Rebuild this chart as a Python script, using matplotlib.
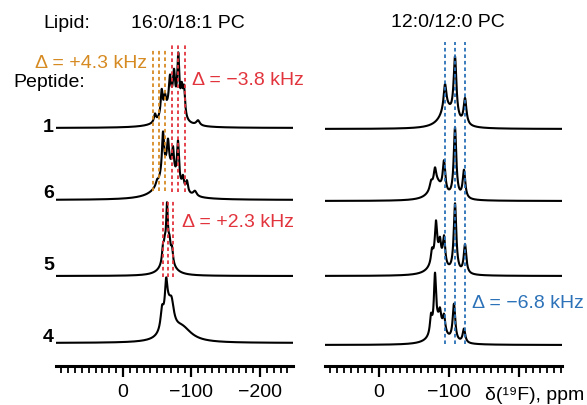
import matplotlib.pyplot as plt
import numpy as np
from matplotlib.ticker import MultipleLocator, FixedLocator, FixedFormatter

plt.rcParams['font.family'] = ['Liberation Sans', 'DejaVu Sans']
plt.rcParams['font.size'] = 14

W, H = 587, 406

# chemical shift grid (ppm)
ppm = np.linspace(100, -280, 4500)

peptides = ['1', '6', '5', '4']

# 16:0/18:1 PC -- peaks: positions (ppm), heights, half widths (ppm)
left_pos = [
    [-46.7, -56.5, -61.3, -68.6, -74.5, -80.7, -85.7, -89.1, -109.5, -70],
    [-49.6, -58.4, -65.7, -73.0, -80.3, -87.6, -93.4, -105, -65],
    [-58.4, -61.0, -64.2, -68.0, -71.5, -65, -65],
    [-63.0, -65.0, -71.0, -57.0, -86.0],
]
left_h = [
    [8, 26, 15, 29, 34, 56, 24, 28, 5, 18],
    [4, 40, 25, 25, 42, 12, 11, 5, 32],
    [14, 11, 40, 11, 13, 15, 14],
    [28, 28, 20, 18, 14],
]
left_w = [
    [1.8, 1.8, 1.8, 2.0, 2.0, 1.8, 1.8, 1.8, 3, 14],
    [1.8, 1.8, 1.8, 1.8, 1.8, 1.8, 1.8, 3, 14],
    [1.6, 1.6, 1.3, 1.6, 1.6, 4, 10],
    [2.0, 7.0, 4.0, 2.5, 17],
]

# 12:0/12:0 PC
right_pos = [
    [-94.3, -108.6, -122.9, -97.0],
    [-74.3, -80.0, -92.9, -108.6, -121.4, -81.6],
    [-75.7, -81.4, -87.1, -92.9, -108.6, -122.9, -82.7],
    [-74.3, -80.0, -87.1, -92.9, -107.1, -121.4, -84.7],
]
right_h = [
    [26, 62, 26, 18],
    [7, 14, 31, 70, 28, 18],
    [12, 34, 17, 28, 69, 29, 18],
    [17, 53, 13, 16, 37, 14, 20],
]
right_w = [
    [2.4, 2.4, 2.4, 12],
    [2.0, 2.0, 2.2, 2.2, 2.2, 10],
    [1.8, 1.8, 1.8, 2.0, 2.2, 2.2, 10],
    [1.8, 1.8, 1.8, 2.0, 2.2, 2.2, 10],
]

# splitting markers (ppm)
orange_lines = [-43.8, -53.3, -62.0]
red_lines_1 = [-71.1, -80.7, -89.8]
red_lines_2 = [-57.7, -65.0, -72.3]
blue_lines = [-94.3, -108.6, -122.9]

orange = '#D68A22'
red = '#E2343D'
blue = '#2C72B8'


def widmo(pos, h, w):
    y = np.zeros_like(ppm)
    for p, a, s in zip(pos, h, w):
        y += a / (1 + ((ppm - p) / s) ** 2)
    return y


def px(x, y):
    return x / W, 1 - y / H


fig = plt.figure(figsize=(W / 100, H / 100), dpi=100)

ax_l = fig.add_axes([56 / W, 1 - 367 / H, 237 / W, 367 / H])
ax_r = fig.add_axes([325 / W, 1 - 367 / H, 237 / W, 367 / H])

offsets_l = [238, 166, 90, 23]
offsets_r = [237, 165, 90, 21]

for i in range(4):
    ax_l.plot(ppm, widmo(left_pos[i], left_h[i], left_w[i]) + offsets_l[i], color='black', lw=1.5)
    ax_r.plot(ppm, widmo(right_pos[i], right_h[i], right_w[i]) + offsets_r[i], color='black', lw=1.5)

dash = dict(linestyles=(0, (2, 1.6)), lw=1.3)
ax_l.vlines(orange_lines, 175, 317, color=orange, **dash)
ax_l.vlines(red_lines_1, 174, 322, color=red, **dash)
ax_l.vlines(red_lines_2, 89, 167, color=red, **dash)
ax_r.vlines(blue_lines, 22, 324, color=blue, **dash)

ax_l.set_xlim(97.8, -248.2)
ax_r.set_xlim(77.1, -261.4)

for ax, labels in [(ax_l, ['0', '\u2212100', '\u2212200']), (ax_r, ['0', '\u2212100', ''])]:
    ax.set_ylim(0, 367)
    for s in ['left', 'right', 'top']:
        ax.spines[s].set_visible(False)
    ax.spines['bottom'].set_linewidth(2.2)
    ax.set_yticks([])
    ax.xaxis.set_major_locator(FixedLocator([0, -100, -200]))
    ax.xaxis.set_major_formatter(FixedFormatter(labels))
    ax.xaxis.set_minor_locator(MultipleLocator(10))
    ax.tick_params(axis='x', which='major', length=8, width=1.6, labelsize=14, pad=4)
    ax.tick_params(axis='x', which='minor', length=5, width=1.3)
    ax.patch.set_visible(False)

fig.text(*px(43, 28), 'Lipid:', ha='left', va='baseline', fontsize=14)
fig.text(*px(188, 28), '16:0/18:1 PC', ha='center', va='baseline', fontsize=14)
fig.text(*px(448, 27), '12:0/12:0 PC', ha='center', va='baseline', fontsize=14)
fig.text(*px(13, 87), 'Peptide:', ha='left', va='baseline', fontsize=14)

for lab, yb in zip(peptides, [132, 198, 270, 342]):
    fig.text(*px(43, yb), lab, ha='left', va='baseline', fontsize=14, fontweight='bold')

fig.text(*px(35, 68), '\u0394 = +4.3 kHz', color=orange, ha='left', va='baseline', fontsize=14)
fig.text(*px(192, 85), '\u0394 = \u22123.8 kHz', color=red, ha='left', va='baseline', fontsize=14)
fig.text(*px(182, 227), '\u0394 = +2.3 kHz', color=red, ha='left', va='baseline', fontsize=14)
fig.text(*px(472, 308), '\u0394 = \u22126.8 kHz', color=blue, ha='left', va='baseline', fontsize=14)
fig.text(*px(485, 400), '\u03b4(\u00b9\u2079F), ppm', ha='left', va='baseline', fontsize=14)

fig.savefig('out.png', dpi=100)
